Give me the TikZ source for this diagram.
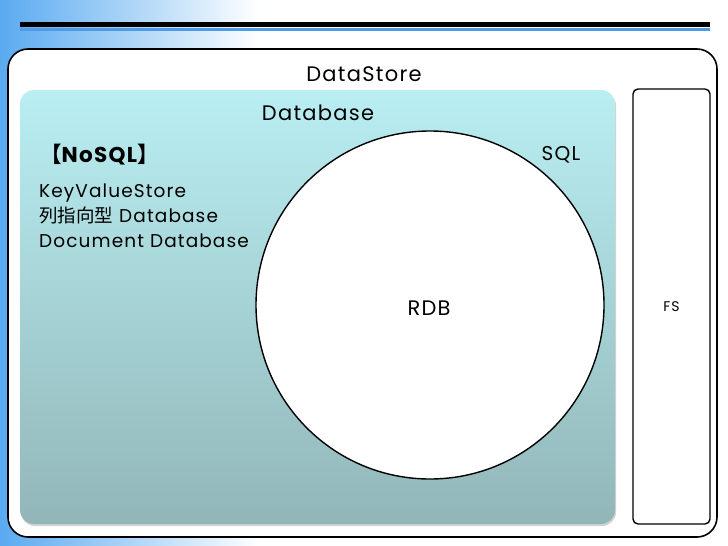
\documentclass[tikz,border=0pt]{standalone}
\usepackage{fontspec}
\setmainfont[LetterSpace=6]{Poppins}
\newfontfamily\cjkfont{Noto Sans CJK JP}
\usetikzlibrary{positioning,shadows}
\definecolor{dbTop}{HTML}{B9EEF2}
\definecolor{dbBottom}{HTML}{92B6B8}
\definecolor{bgBlue}{HTML}{5AAAF0}
\definecolor{barBlue}{HTML}{4F9BE6}

\begin{document}
\begin{tikzpicture}[x=1pt, y=-1pt,
    storeBox/.style={rectangle, rounded corners=20pt, draw=black, line width=1.6pt, fill=white, minimum width=709pt, minimum height=488pt, inner sep=0pt},
    dbBox/.style={rectangle, rounded corners=14pt, top color=dbTop, bottom color=dbBottom, minimum width=595pt, minimum height=434pt, inner sep=0pt, drop shadow={shadow xshift=1pt, shadow yshift=-2pt, opacity=0.35}},
    fsBox/.style={rectangle, rounded corners=5pt, draw=black, line width=1.4pt, fill=white, minimum width=77pt, minimum height=435pt, inner sep=0pt},
    rdbCircle/.style={circle, draw=black, line width=1.4pt, fill=white, minimum size=348pt, inner sep=0pt},
    titleText/.style={font=\fontsize{21}{24}\selectfont, inner sep=0pt},
    listText/.style={font=\fontsize{18.5}{25}\selectfont, align=left, inner sep=0pt}
]
    \useasboundingbox (0,0) rectangle (728,546);
    % slide background
    \shade[left color=bgBlue, right color=white] (0,0) rectangle (260,546);
    \draw[line width=3pt, draw=barBlue] (20,29.5) -- (710,29.5);
    \draw[line width=5pt] (20,24.5) -- (710,24.5);

    \node[storeBox] (store) at (362.5,293) {};
    \node[dbBox] (db) at (317.5,307) {};
    \node[fsBox] (fs) at (671.5,306.5) {};
    \node[rdbCircle] (rdb) at (430,305) {};

    \node[titleText] (storeLabel) at (364,74) {DataStore};
    \node[titleText] (dbLabel) at (318,113) {Database};
    \node[titleText, font=\fontsize{21.5}{22}\selectfont\bfseries, anchor=west] (nosql) at (40,155) {{\cjkfont 【}NoSQL{\cjkfont 】}};
    \node[titleText, font=\fontsize{20}{22}\selectfont] (sql) at (561,155) {SQL};
    \node[listText, anchor=north west] (nosqlList) at (39,184) {KeyValueStore\\{\cjkfont 列指向型} Database\\Document Database};
    \node[titleText, font=\fontsize{21}{22}\selectfont] (rdbLabel) at (429,308) {RDB};
    \node[titleText, font=\fontsize{14}{16}\selectfont] (fsLabel) at (fs) {FS};
\end{tikzpicture}
\end{document}
